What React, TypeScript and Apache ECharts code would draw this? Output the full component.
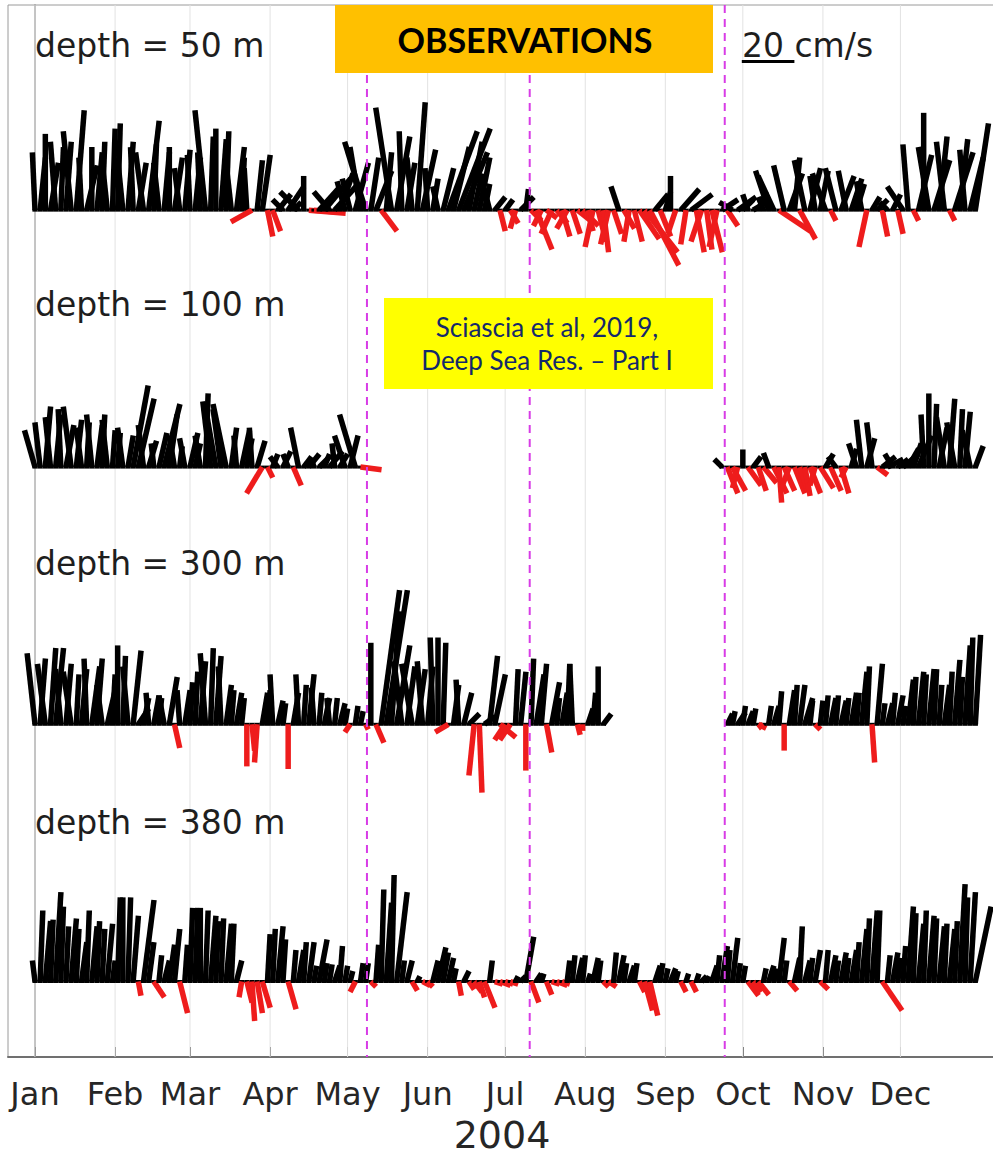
import React, { useEffect, useRef } from "react";
import * as echarts from "echarts";

// Time axis: days since 1 Jan 2004, one stick every two days.
const stepDays = 2;
const monthStartDays = [0, 31, 60, 91, 121, 152, 182, 213, 244, 274, 305, 335];
const monthLabels = ["Jan", "Feb", "Mar", "Apr", "May", "Jun", "Jul", "Aug", "Sep", "Oct", "Nov", "Dec"];
const eventDays = [128.5, 191.5, 267];

// Baseline of each depth row, in cm/s along the vertical axis (0..400).
const depthLabels = ["depth = 50 m", "depth = 100 m", "depth = 300 m", "depth = 380 m"];
const rowBaselines = [322, 224.3, 126.5, 28.7];
const scaleBarSpeed = 20;

// 50 m: northward (v) and eastward (u) velocity, cm/s
const v50 = [
  22, 20, 29, 18, 26, 24, 26, 30, 38, 20, 17, 24, 22, 26, 19, 31,
  33, 20, 26, 24, 18, 22, 34, 25, 18, 22, 24, 20, 16, 23, 21,
  20, 22, 38, 28, 31, 27, 30, 18, 24, 20, 16, -4.5, 19, 21, -10,
  -8, 6, 4, 9, 3, 7, 13, -1.2, -0.8, 9, 12, 7, 10, 14, 11,
  12, 18, 24, 26, 20, 15, -8, 22, 39, 28, 30, 18, 20, 41, 23, 16,
  12, 9, 16, 30, 24, 31, 22, 26, 14, 20, 10, 8, 5, -8, 4,
  -5, -7, 5, 8, -4, -15, -6, -3, -9, -5, -10, -7, -9, -4, -6,
  -8, -14, -12, -16, -13, -9, 9, -7, -12, -12, -11, -16, -21, 6, -10,
  7, 13, -9, 8, -13, 6, -16, -12, -15, -16, -14, 4, -6, 3, 5,
  4, 6, 3, 7, 5, 15, 13, -8, 17, 14, 20, -11, 19, 16, 13, 15,
  14, -4, 16, 13, 15, 12, 10, 11, -14, 5, 4, -10, 3, 6, -9,
  9, 25, -4, 21, 37, 24, 19, 28, 26, -4, 22, 27, 23, 20, 33,
];
const u50 = [
  -1, 2, 0, 3, -2, 1, 2, -3, 3, -1, 4, 0, 2, 1, -2, 1,
  1, -2, 2, -1, 3, -3, 4, 1, -2, 2, 0, 3, -2, 2, -1,
  2, -1, -4, 1, 0, 2, 1, -2, 3, 1, -1, -8, 2, 3, 2,
  3, 5, -4, 6, 3, -7, 0, 14, 10, 8, 10, -6, 9, 5, -3,
  -3, 5, -4, -8, 3, 6, 6, 2, -6, 5, -1, 3, -2, 3, 5, -1,
  2, -2, 4, 11, 6, 12, 9, 5, 3, 4, 2, -2, 4, 2, 3,
  3, -2, 5, 1, 4, 6, -3, 4, -4, 4, 3, -4, 3, 5, 6,
  2, -3, 3, 2, -3, 3, -3, 4, -2, 3, 7.5, 12.5, 11, 5, 4,
  2, 0, -3, 7, -2, 8, 3, -4, 2, 4, -3, 6, 4, -5, 7,
  4, -2, 5, 3, -2, -5, -6, 12, -4, 5, 2, 6, -4, 4, -2, 3,
  -5, 2, -4, 5, -3, 4, 3, -2, -3, 3, 4, 2, -3, 3, 2,
  -6, -2, 2, 5, 0, -4, 6, 3, -3, 2, 7, 3, -2, 5, 5,
];

// 100 m: record interrupted between May and late September
const start100Spring = 0;
const v100Spring = [
  14, 17, 23, 19, 20, 22, 16, 23, 18, 15, 17, 20, 16, 20, 18, 14,
  13, 15, 12, 31, 26, 16, 10, 9, 13, 24, 20, 12, 8, 11, 13,
  9, 12, 28, 25, 23, 22, 24, 15, 12, 14, 11, 15, 10, -10, -4,
  5, 4, 6, 5, -7, 15, 4, 5, 3, 4, 5, 6, 9, 5, 12,
  12, 20, -1,
];
const u100Spring = [
  -4, -2, 2, -2, 2, -1, 3, -3, 2, -2, 1, -2, 2, 1, -2, 1,
  1, -2, 2, 5.7, 6, -2, 3, -1, 3, 6, 3, -2, 1, -2, 3,
  2, -2, 1, -3, -4, -3, -5, 2, -1, 3, 2, -1, 3, -6, 2,
  2, -3, 3, -2, 3, -3, 3, 4, -1, 4, 2, 5, -1, 3, -4,
  3, -6, 8,
];
const start100Autumn = 266;
const v100Autumn = [
  3, -10, -9, -8,
  6.7, -7, 4, -9, -6, 5.4, -10, -13.5, -9, -8, -10, -9, -11, -10, -7, -8,
  5, -9, 4, -10, -4, 7, 9, 18, 11, 17, -3, 4, 3, 5, 3,
  5, 7, 9, 12, 20, 28, 24, 15, 19, 26, 17, 22, 21, 14, 8,
];
const u100Autumn = [
  -3, 4, 5, -2,
  0, 5, 3, 3, 5, -2, 5, 1, 4, -3, 4, 3, 2, 4, -2, 5,
  3, 4, -3, 3, -2, 2, -3, -2, 3, -2, 4, 5, 6, -3, 4,
  6, 4, 3, 5, -1, 0, 1, 3, -3, 2, -3, 1, 2, -3, 3,
];

// 300 m: gap from mid-August to late September
const start300Spring = 0;
const v300Spring = [
  27, 25, 23, 29, 29, 21, 23, 20, 19, 21, 25, 22, 25, 15, 13, 19,
  30, 26, 22, 28, 6, 10, 12, 11, 10, 11, 18, -9, 13, 13, 16,
  20, 24, 27, 29, 26, 22, 15, 13, 12, 10, -16, -10, -14.5, 12, 13,
  19, 9, 8, -17, 12, 19, 15, 19, 14, 12, 10, 10, 10, 8, 6,
  -3, 7, 5, -2, 31, -7, 51, 51, 43, 30, 24, 22, 23, 21, 24, 22,
  33, 33, 31, -3, 15, 17, 12, 4, -19.5, -26, 3, 26, 19, -5, -6,
  -6, 21, 20, -17.6, 25, 19, 23, -10.7, 16, 10, 12, 23, 23, -4, -2.5,
  6, 12, 22, 4,
];
const u300Spring = [
  -3, 2, -3, 2, 3, -2, 2, -3, 1, 2, -1, 3, 2, -2, 3, 1,
  0, 1, -2, 3, 4, 2, -1, 2, 1, -2, 3, 2, -1, 2, 1,
  1, 2, -2, 1, 2, -1, 2, 1, 2, 1, 0, 1, -1, 2, 1,
  -1, 2, 1, 0, 2, -1, 1, 2, -1, 1, 2, -1, 1, 2, 1,
  -2, 1, 1, 1, 0, 3, 7, 8, 3, 5, -3, 3, -4, 3, -2, 2,
  -1, 0, 1, -5, 2, -1, 3, 4, -2, 1, 4, 3, 4, 6, -4,
  -4, 1, 2, 0, 1, 3, 2, 2, 3, 1, 2, 1, -1, 1, 0,
  2, 1, 0, 3,
];
const start300Autumn = 268;
const v300Autumn = [
  4, 5, 4.5,
  7, 5, 6, -1.5, -1.5, 7, 7, 12.6, -10, 13, 15, 15, 10, 9, -2, 9,
  11, 10, 11, 9, 10, 12, 12, 20, 22, -14.5, 23, 8, 8, 12, 11,
  7, 17, 18, 20, 19, 21, 21, 15, 15, 20, 24.5, 18, 30, 33, 34,
];
const u300Autumn = [
  2, 1, 3,
  1, 2, 1, 3, -2, 1, 2, 1, 0, 2, 1, 2, 3, 1, 2, 1,
  1, 2, 1, 2, 1, 2, 1, 2, 1, 1, 2, 1, 2, 1, 2,
  1, 2, 1, 2, 1, 2, 1, 1, 2, 1, 2, 1, 2, 1, 2,
];

// 380 m
const v380 = [
  8, 27, 23, 23.5, 34, 28.5, 21, 24, 20, 15, 27, 21, 23, 20, 22, 8,
  32, 32, 32, 25, -5.4, 31, 15, -6, 10, 8, 14, 20, -12, 14, 28,
  28, 28, 27, 25, 23, 24, 22, 22, 8, -6, -8, -15, -12, -10, 18,
  20, 21, 16, -10.5, 12, 12, 15, 15, 6, 16, 7, 6.5, 6, 13.5, 6,
  4, -4, 7, 7, -2, 14, 35, 30, 40.5, 34, 8, 8, -3.5, 2, -1.5, -2,
  8, 13, 11, 9, 5, -5.4, 4, -3, -4, -6, -10, 8, -1, -1.5, -1,
  -1, 2, 2, 17, -8, 3, 3, -5, -1, -1.5, -1, 8, 10, 9, 10,
  3, 9, 8, -2, -2, 11, 10, 7, 6, 7, -4, -11, -13, 6, 7,
  5, 5, 4, -4, 3, -4, 3, 2, 2, 6, 10, 13.5, 12, 16.6, 7,
  6, -5.4, -4, -5, 5, 6, 5, 16.6, 8, -3.5, 9, 21, 8, 9, 12, -3,
  12, 10, 8, 11, 9, 12, 15, 20, 24, 27, 27, -11, 10, 11, 9,
  13.5, 28.5, 26, 22, 27, 25, 24, 21, 22, 20, 23, 37, 32, 34, 28.5,
];
const u380 = [
  -1, 1, 2, 1, 2, 1, 1, 2, 1, 2, 1, 2, 1, 1, 2, 1,
  1, 0, 1, 2, 1, 4, 2, 4, 1, 2, 2, 2, 3, 1, 1,
  1, 0, 1, 2, 1, 1, 2, 1, 2, -1, 2, 1, 2, 3, 1,
  1, 2, 1, 3, 1, 2, 1, 2, 1, 3, 1, 1, 2, 1, 1,
  1, -2, 1, 1, 2, 1, 1, 2, 1, 4, 1, 2, 2, 1, 3, 2,
  2, 3, 2, 2, 1, 1, 2, 2, 3, 2, 4, 1, 3, 4, 3,
  3, 1, 2, 3, 3, 2, 1, 2, 3, 4, 3, 1, 1, 2, 1,
  1, 2, 1, 2, 3, 1, 2, 1, 2, 1, 2, 3, 3, 2, 1,
  1, 2, 1, 2, 1, 2, 1, 2, 1, 2, 1, 2, 1, 2, 1,
  1, 4, 3, 4, 1, 2, 1, 2, 1, 3, 2, 1, 2, 1, 2, 3,
  1, 2, 1, 2, 1, 2, 1, 2, 1, 2, 1, 7.5, 1, 2, 1,
  1, 2, 1, 2, 1, 2, 1, 2, 1, 2, 1, 2, 1, 2, 6,
];

type Segment = { startDay: number; v: number[]; u: number[] };

const rowSegments: Segment[][] = [
  [{ startDay: 0, v: v50, u: u50 }],
  [
    { startDay: start100Spring, v: v100Spring, u: u100Spring },
    { startDay: start100Autumn, v: v100Autumn, u: u100Autumn },
  ],
  [
    { startDay: start300Spring, v: v300Spring, u: u300Spring },
    { startDay: start300Autumn, v: v300Autumn, u: u300Autumn },
  ],
  [{ startDay: 0, v: v380, u: u380 }],
];

const STICK_BLACK = "#000000";
const STICK_RED = "#ee1c1c";
const FONT = '"DejaVu Sans", sans-serif';

function buildSticks() {
  const out: number[][] = [];
  rowSegments.forEach((segs, r) => {
    segs.forEach((seg) => {
      seg.v.forEach((v, k) => {
        out.push([seg.startDay + k * stepDays, rowBaselines[r], seg.u[k], v]);
      });
    });
  });
  return out;
}

const textStyle = (text: string, font: string, fill: string, align: string) => ({
  text,
  font,
  fill,
  textAlign: align,
  textVerticalAlign: "middle",
  align,
  verticalAlign: "middle",
});

export default function App() {
  const ref = useRef<HTMLDivElement>(null);

  useEffect(() => {
    if (!ref.current) return;
    const chart = echarts.init(ref.current, undefined, { renderer: "svg" });

    const stickData = buildSticks();

    const option: any = {
      animation: false,
      backgroundColor: "#ffffff",
      grid: {
        left: 8,
        right: 4,
        top: 5,
        bottom: 93,
        show: true,
        borderColor: "#9a9a9a",
        borderWidth: 1,
      },
      xAxis: {
        type: "value",
        min: -10.45,
        max: 372,
        axisLine: { show: true, lineStyle: { color: "#707070", width: 2 } },
        axisTick: {
          show: true,
          customValues: monthStartDays,
          inside: true,
          length: 10,
          lineStyle: { color: "#555555", width: 1 },
        },
        axisLabel: {
          show: true,
          customValues: monthStartDays,
          formatter: (val: number) => {
            const idx = monthStartDays.indexOf(Math.round(val));
            return idx >= 0 ? monthLabels[idx] : "";
          },
          fontSize: 32,
          fontFamily: FONT,
          color: "#262626",
          margin: 21,
        },
        splitLine: { show: false },
        name: "2004",
        nameLocation: "middle",
        nameGap: 59,
        nameTextStyle: { fontSize: 38, fontFamily: FONT, color: "#262626" },
      },
      yAxis: {
        type: "value",
        min: 0,
        max: 400,
        axisLine: { show: true, lineStyle: { color: "#8a8a8a", width: 1.5 } },
        axisTick: { show: false },
        axisLabel: { show: false },
        splitLine: { show: false },
      },
      series: [
        {
          // monthly grid lines
          type: "custom",
          silent: true,
          z: 1,
          data: monthStartDays.map((d) => [d, 0]),
          encode: { x: 0, y: 1 },
          renderItem: (params: any, api: any) => {
            const x = api.coord([api.value(0), 0])[0];
            const cs = params.coordSys;
            return {
              type: "line",
              shape: { x1: x, y1: cs.y, x2: x, y2: cs.y + cs.height },
              style: { stroke: "#e2e2e2", lineWidth: 1 },
            };
          },
        },
        {
          // current sticks
          type: "custom",
          silent: true,
          z: 2,
          data: stickData,
          encode: { x: 0, y: 1 },
          renderItem: (_params: any, api: any) => {
            const day = api.value(0) as number;
            const base = api.value(1) as number;
            const u = api.value(2) as number;
            const v = api.value(3) as number;
            const p = api.coord([day, base]);
            const unit = api.size([0, 1])[1];
            const half = (api.size([1, 0])[0] * stepDays) / 2;
            return {
              type: "group",
              children: [
                {
                  type: "line",
                  shape: { x1: p[0] - half, y1: p[1], x2: p[0] + half, y2: p[1] },
                  style: { stroke: STICK_BLACK, lineWidth: 3 },
                },
                {
                  type: "line",
                  shape: { x1: p[0], y1: p[1], x2: p[0] + u * unit, y2: p[1] - v * unit },
                  style: { stroke: v < 0 ? STICK_RED : STICK_BLACK, lineWidth: 5.5 },
                },
              ],
            };
          },
        },
        {
          // event markers
          type: "custom",
          silent: true,
          z: 3,
          data: eventDays.map((d) => [d, 0]),
          encode: { x: 0, y: 1 },
          renderItem: (params: any, api: any) => {
            const x = api.coord([api.value(0), 0])[0];
            const cs = params.coordSys;
            return {
              type: "line",
              shape: { x1: x, y1: cs.y, x2: x, y2: cs.y + cs.height },
              style: { stroke: "#d83ce6", lineWidth: 2, lineDash: [8, 6] },
            };
          },
        },
        {
          // velocity scale bar
          type: "custom",
          silent: true,
          z: 4,
          data: [[273.6, 378.5, scaleBarSpeed]],
          encode: { x: 0, y: 1 },
          renderItem: (_params: any, api: any) => {
            const p = api.coord([api.value(0), api.value(1)]);
            const unit = api.size([0, 1])[1];
            const len = (api.value(2) as number) * unit;
            return {
              type: "line",
              shape: { x1: p[0], y1: p[1], x2: p[0] + len, y2: p[1] },
              style: { stroke: "#000", lineWidth: 3 },
            };
          },
        },
      ],
      graphic: [
        ...depthLabels.map((t, i) => ({
          type: "text",
          z: 50,
          silent: true,
          x: 35,
          y: 45 + i * 259,
          style: textStyle(t, `33px ${FONT}`, "#1e1e1e", "left"),
        })),
        {
          type: "text",
          z: 50,
          silent: true,
          x: 742,
          y: 45,
          style: textStyle(`${scaleBarSpeed} cm/s`, `33px ${FONT}`, "#1e1e1e", "left"),
        },
        {
          type: "rect",
          z: 60,
          silent: true,
          shape: { x: 335, y: 5, width: 378, height: 68 },
          style: { fill: "#ffc000" },
        },
        {
          type: "text",
          z: 61,
          silent: true,
          x: 525,
          y: 39,
          style: textStyle("OBSERVATIONS", 'bold 34px Lato, "Open Sans", sans-serif', "#000", "center"),
        },
        {
          type: "rect",
          z: 60,
          silent: true,
          shape: { x: 384, y: 298, width: 329, height: 91 },
          style: { fill: "#ffff00" },
        },
        {
          type: "text",
          z: 61,
          silent: true,
          x: 547,
          y: 327,
          style: textStyle("Sciascia et al, 2019,", '26px Lato, "Open Sans", sans-serif', "#14296b", "center"),
        },
        {
          type: "text",
          z: 61,
          silent: true,
          x: 547,
          y: 360,
          style: textStyle("Deep Sea Res. \u2013 Part I", '26px Lato, "Open Sans", sans-serif', "#14296b", "center"),
        },
      ],
    };

    chart.setOption(option);
    return () => chart.dispose();
  }, []);

  return (
    <div
      style={{
        position: "fixed",
        left: 0,
        top: 0,
        width: 993,
        height: 1159,
        overflow: "hidden",
        background: "#fff",
      }}
    >
      <div ref={ref} style={{ width: 1000, height: 1159 }} />
    </div>
  );
}
